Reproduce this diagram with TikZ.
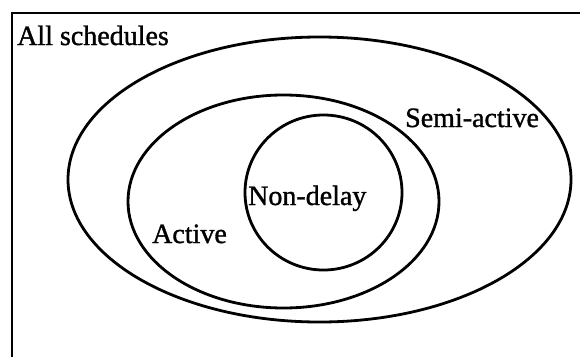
\documentclass[tikz,border=0pt]{standalone}
\usepackage{fontspec}
\setmainfont{Liberation Serif}
\newfontfamily\labelserif{Liberation Serif}[FakeBold=1.2]
\begin{document}
\begin{tikzpicture}[x=1pt,y=-1pt,
  setline/.style={line width=2.8pt},
  framestyle/.style={line width=2.2pt},
  setlabel/.style={font=\labelserif\fontsize{28}{30}\selectfont, anchor=base west, inner sep=0pt}]
\useasboundingbox (0,0) rectangle (580,356);
% frame of the universe of schedules (runs past the right and bottom edges)
\begin{scope}
  \clip (0,0) rectangle (580,356);
  \draw[framestyle] (12,13) rectangle (600,380);
\end{scope}
% nested sets
\draw[setline] (319.5,179.5) ellipse [x radius=251.5, y radius=142.5];
\draw[setline] (283.5,201.5) ellipse [x radius=155.5, y radius=106.5];
\draw[setline] (323.5,192.5) ellipse [x radius=78.5, y radius=77.5];
% labels
\node[setlabel] (all) at (17,45) {All schedules};
\node[setlabel] (semi) at (405,127) {Semi-active};
\node[setlabel] (nondelay) at (248,205) {Non-delay};
\node[setlabel] (active) at (152,243) {Active};
\end{tikzpicture}
\end{document}
